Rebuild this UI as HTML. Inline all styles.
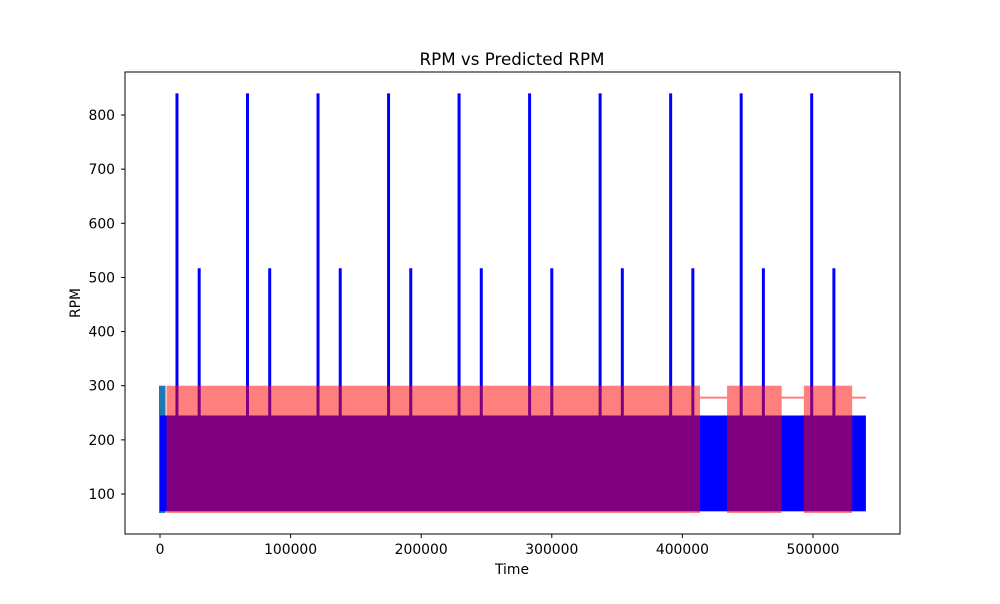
<!DOCTYPE html>
<html><head><meta charset="utf-8"><style>
body{margin:0;background:#fff;font-family:"DejaVu Sans","Liberation Sans",sans-serif}
svg text{font-family:"DejaVu Sans","Liberation Sans",sans-serif;fill:#000}
</style></head><body>
<svg id="chart" width="1000" height="600" xmlns="http://www.w3.org/2000/svg">
<rect width="1000" height="600" fill="#fff"/>
<g id="plot"></g>
<rect x="125" y="72" width="775" height="462" fill="none" stroke="#000" stroke-width="1"/>
<g id="axes"></g>
<text x="512" y="65" font-size="16.7" text-anchor="middle">RPM vs Predicted RPM</text>
<text x="512" y="574" font-size="13.9" text-anchor="middle">Time</text>
<text x="80" y="303" font-size="13.9" text-anchor="middle" transform="rotate(-90 80 303)">RPM</text>
</svg>
<script>
// data
const xTicks=[0,100000,200000,300000,400000,500000];
const xTickLabels=["0","100000","200000","300000","400000","500000"];
const yTicks=[100,200,300,400,500,600,700,800];
const yTickLabels=["100","200","300","400","500","600","700","800"];
// blue (actual RPM) band segments: start, end, low, high
const blueStart=[0];
const blueEnd=[540500];
const blueLow=[68];
const blueHigh=[245];
// red (predicted) active band segments
const redStart=[5000,434200,493000];
const redEnd=[413500,476000,530000];
const redLow=[65,65,65];
const redHigh=[300,300,300];
// red flat segments (constant prediction)
const flatStart=[413500,476000,530000];
const flatEnd=[434200,493000,540500];
const flatValue=[278,278,278];
// spikes
const tallSpikeX=[13000,67000,121000,175000,229000,283000,337000,391000,445000,499000];
const tallSpikeValue=[840,840,840,840,840,840,840,840,840,840];
const shortSpikeX=[30000,84000,138000,192000,246000,300000,354000,408000,462000,516000];
const shortSpikeValue=[517,517,517,517,517,517,517,517,517,517];
// teal initial series
const tealX=[0,5000];
const tealLow=[65];
const tealHigh=[300];

const NS="http://www.w3.org/2000/svg";
const sx=v=>160+v*(653/500000);
const sy=v=>494-(v-100)*(379/700);
const plot=document.getElementById('plot'), axes=document.getElementById('axes');
function mk(tag,attrs,parent){const e=document.createElementNS(NS,tag);for(const k in attrs)e.setAttribute(k,attrs[k]);parent.appendChild(e);return e;}

let t=mk('rect',{x:sx(tealX[0])-1,y:sy(tealHigh[0]),width:Math.max(3,sx(tealX[1])-sx(tealX[0])),height:sy(tealLow[0])-sy(tealHigh[0]),fill:'#1f77b4'},plot);


blueStart.forEach((s,i)=>{
 const r=mk('rect',{x:sx(s),y:sy(blueHigh[i]),width:sx(blueEnd[i])-sx(s),height:sy(blueLow[i])-sy(blueHigh[i]),fill:'#0000ff'},plot);
 
 
});
tallSpikeX.forEach((v,i)=>{
 const l=mk('line',{x1:sx(v),x2:sx(v),y1:sy(blueHigh[0]),y2:sy(tallSpikeValue[i]),stroke:'#0000ff','stroke-width':3},plot);
 
 
});
shortSpikeX.forEach((v,i)=>{
 const l=mk('line',{x1:sx(v),x2:sx(v),y1:sy(blueHigh[0]),y2:sy(shortSpikeValue[i]),stroke:'#0000ff','stroke-width':3},plot);
 
 
});
redStart.forEach((s,i)=>{
 const r=mk('rect',{x:sx(s),y:sy(redHigh[i]),width:sx(redEnd[i])-sx(s),height:sy(redLow[i])-sy(redHigh[i]),fill:'#ff0000','fill-opacity':0.5},plot);
 
 
});
flatStart.forEach((s,i)=>{
 const l=mk('line',{x1:sx(s),x2:sx(flatEnd[i]),y1:sy(flatValue[i]),y2:sy(flatValue[i]),stroke:'#ff0000','stroke-opacity':0.5,'stroke-width':2},plot);
 
 
});
xTicks.forEach((v,i)=>{
 const x=sx(v);
 mk('line',{x1:x,x2:x,y1:534,y2:538,stroke:'#000'},axes);
 const tx=mk('text',{x:x,y:554,'font-size':13.9,'text-anchor':'middle'},axes);
 tx.textContent=xTickLabels[i];
 
 
});
yTicks.forEach((v,i)=>{
 const y=sy(v);
 mk('line',{x1:121,x2:125,y1:y,y2:y,stroke:'#000'},axes);
 const tx=mk('text',{x:115,y:y+5,'font-size':13.9,'text-anchor':'end'},axes);
 tx.textContent=yTickLabels[i];
 
 
});
</script>
</body></html>
